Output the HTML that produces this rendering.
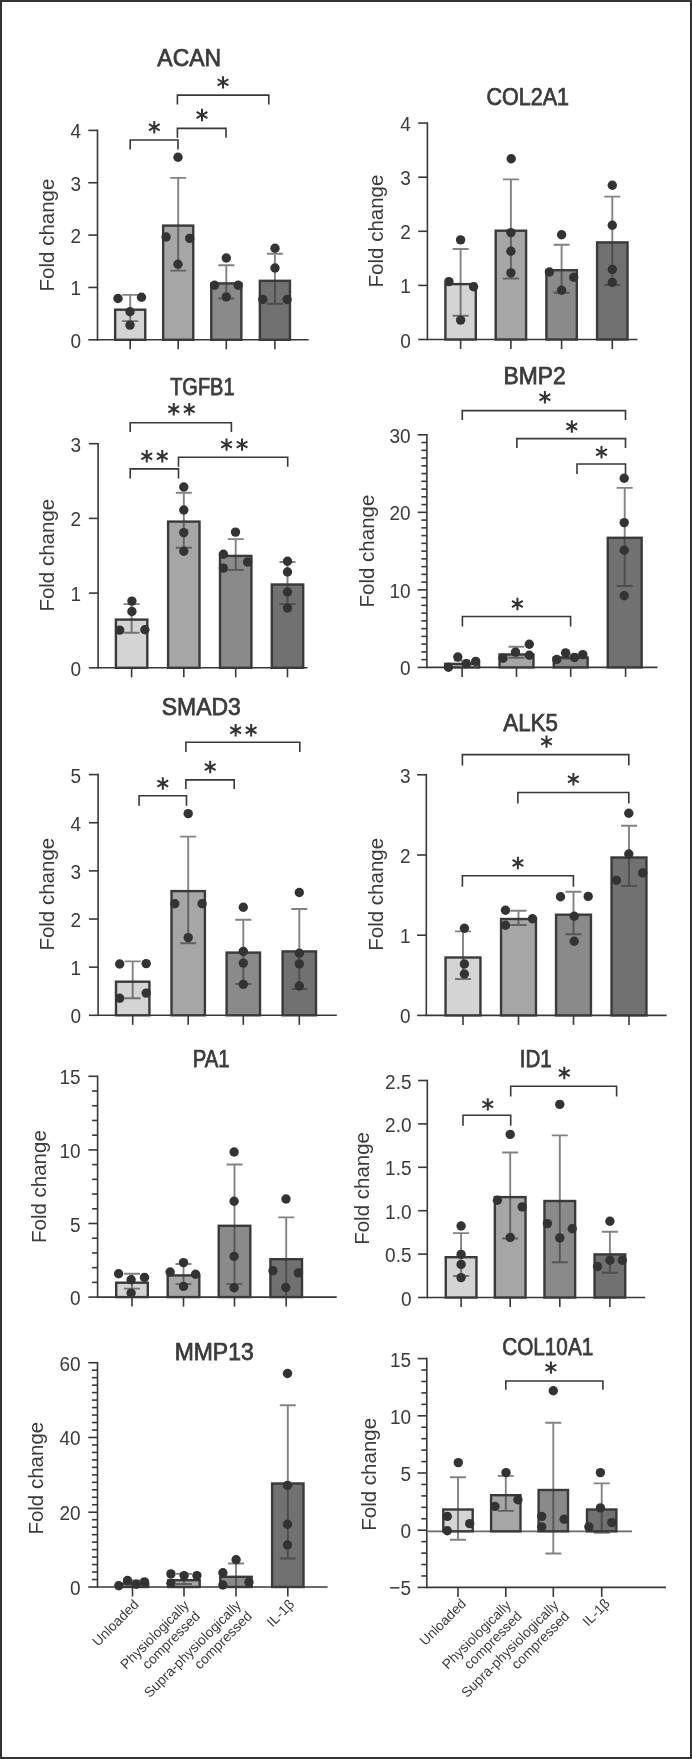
<!DOCTYPE html>
<html><head><meta charset="utf-8"><title>Fold change charts</title>
<style>
html,body{margin:0;padding:0;background:#fff;}
body{width:692px;height:1759px;overflow:hidden;}
.frame{position:absolute;left:0;top:0;width:688px;height:1755px;border:2px solid #333;background:#fff;}
svg{position:absolute;left:0;top:0;will-change:transform;}
</style></head><body>
<div class="frame"></div>
<svg width="692" height="1759" viewBox="0 0 692 1759" font-family='"Liberation Sans", sans-serif'>
<text x="189.2" y="65.9" text-anchor="middle" font-size="23.2" fill="#3b3b3b" stroke="#3b3b3b" stroke-width="0.75" textLength="63.7" lengthAdjust="spacingAndGlyphs">ACAN</text>
<text transform="translate(54.2,235) rotate(-90)" text-anchor="middle" font-size="20.5" fill="#3b3b3b">Fold change</text>
<line x1="88.3" y1="339.8" x2="97.5" y2="339.8" stroke="#383838" stroke-width="1.6" />
<text transform="translate(81,347.8) scale(0.9,1)" text-anchor="end" font-size="21.1" fill="#3b3b3b">0</text>
<line x1="88.3" y1="287.45" x2="97.5" y2="287.45" stroke="#383838" stroke-width="1.6" />
<text transform="translate(81,295.45) scale(0.9,1)" text-anchor="end" font-size="21.1" fill="#3b3b3b">1</text>
<line x1="88.3" y1="235.1" x2="97.5" y2="235.1" stroke="#383838" stroke-width="1.6" />
<text transform="translate(81,243.1) scale(0.9,1)" text-anchor="end" font-size="21.1" fill="#3b3b3b">2</text>
<line x1="88.3" y1="182.75" x2="97.5" y2="182.75" stroke="#383838" stroke-width="1.6" />
<text transform="translate(81,190.75) scale(0.9,1)" text-anchor="end" font-size="21.1" fill="#3b3b3b">3</text>
<line x1="88.3" y1="130.4" x2="97.5" y2="130.4" stroke="#383838" stroke-width="1.6" />
<text transform="translate(81,138.4) scale(0.9,1)" text-anchor="end" font-size="21.1" fill="#3b3b3b">4</text>
<line x1="97.5" y1="129.6" x2="97.5" y2="340.6" stroke="#383838" stroke-width="1.6" />
<line x1="97.5" y1="339.8" x2="308.7" y2="339.8" stroke="#383838" stroke-width="1.6" />
<line x1="130.2" y1="339.8" x2="130.2" y2="349.3" stroke="#383838" stroke-width="1.6" />
<line x1="178.2" y1="339.8" x2="178.2" y2="349.3" stroke="#383838" stroke-width="1.6" />
<line x1="226.3" y1="339.8" x2="226.3" y2="349.3" stroke="#383838" stroke-width="1.6" />
<line x1="274.9" y1="339.8" x2="274.9" y2="349.3" stroke="#383838" stroke-width="1.6" />
<rect x="115.15" y="309.7" width="30.1" height="30.1" fill="#d4d4d4" stroke="#3a3a3a" stroke-width="2.4"/>
<rect x="163.15" y="225.6" width="30.1" height="114.2" fill="#a6a6a6" stroke="#3a3a3a" stroke-width="2.4"/>
<rect x="211.25" y="283.4" width="30.1" height="56.4" fill="#8a8a8a" stroke="#3a3a3a" stroke-width="2.4"/>
<rect x="259.85" y="280.8" width="30.1" height="59" fill="#717171" stroke="#3a3a3a" stroke-width="2.4"/>
<path d="M130.2 294.9V321.1M122.2 294.9H138.2M122.2 321.1H138.2" stroke="rgba(55,55,55,0.62)" stroke-width="1.9" fill="none"/>
<path d="M178.2 177.9V270.6M170.2 177.9H186.2M170.2 270.6H186.2" stroke="rgba(55,55,55,0.62)" stroke-width="1.9" fill="none"/>
<path d="M226.3 265.3V298.5M218.3 265.3H234.3M218.3 298.5H234.3" stroke="rgba(55,55,55,0.62)" stroke-width="1.9" fill="none"/>
<path d="M274.9 253.7V303.8M266.9 253.7H282.9M266.9 303.8H282.9" stroke="rgba(55,55,55,0.62)" stroke-width="1.9" fill="none"/>
<circle cx="118" cy="298.5" r="4.7" fill="#333333"/>
<circle cx="141.5" cy="297.2" r="4.7" fill="#333333"/>
<circle cx="130" cy="311.8" r="4.7" fill="#333333"/>
<circle cx="130" cy="325.1" r="4.7" fill="#333333"/>
<circle cx="178" cy="157.3" r="4.7" fill="#333333"/>
<circle cx="166.1" cy="237" r="4.7" fill="#333333"/>
<circle cx="189.7" cy="238.4" r="4.7" fill="#333333"/>
<circle cx="178" cy="264.3" r="4.7" fill="#333333"/>
<circle cx="226.3" cy="258" r="4.7" fill="#333333"/>
<circle cx="214.6" cy="285.2" r="4.7" fill="#333333"/>
<circle cx="238.2" cy="285.2" r="4.7" fill="#333333"/>
<circle cx="226.3" cy="296.9" r="4.7" fill="#333333"/>
<circle cx="275" cy="248.3" r="4.7" fill="#333333"/>
<circle cx="275" cy="268" r="4.7" fill="#333333"/>
<circle cx="262.8" cy="299.5" r="4.7" fill="#333333"/>
<circle cx="287.1" cy="299.5" r="4.7" fill="#333333"/>
<path d="M177.4 103.8V95.1H268.8V103.8" stroke="#383838" stroke-width="1.6" stroke-linecap="square" fill="none"/>
<path d="M223 76.15L223 88.55M217.63 79.25L228.37 85.45M228.37 79.25L217.63 85.45" stroke="#333" stroke-width="2.0" fill="none"/>
<path d="M177.4 137V128.4H226V137" stroke="#383838" stroke-width="1.6" stroke-linecap="square" fill="none"/>
<path d="M202 108.8L202 121.2M196.63 111.9L207.37 118.1M207.37 111.9L196.63 118.1" stroke="#333" stroke-width="2.0" fill="none"/>
<path d="M130.2 148.7V140H178V148.7" stroke="#383838" stroke-width="1.6" stroke-linecap="square" fill="none"/>
<path d="M154.3 121.1L154.3 133.5M148.93 124.2L159.67 130.4M159.67 124.2L148.93 130.4" stroke="#333" stroke-width="2.0" fill="none"/>
<text x="527.7" y="104.8" text-anchor="middle" font-size="23.2" fill="#3b3b3b" stroke="#3b3b3b" stroke-width="0.75" textLength="82.5" lengthAdjust="spacingAndGlyphs">COL2A1</text>
<text transform="translate(382.8,231) rotate(-90)" text-anchor="middle" font-size="20.5" fill="#3b3b3b">Fold change</text>
<line x1="418.2" y1="339.5" x2="427.4" y2="339.5" stroke="#383838" stroke-width="1.6" />
<text transform="translate(410.8,347.5) scale(0.9,1)" text-anchor="end" font-size="21.1" fill="#3b3b3b">0</text>
<line x1="418.2" y1="285.4" x2="427.4" y2="285.4" stroke="#383838" stroke-width="1.6" />
<text transform="translate(410.8,293.4) scale(0.9,1)" text-anchor="end" font-size="21.1" fill="#3b3b3b">1</text>
<line x1="418.2" y1="231.3" x2="427.4" y2="231.3" stroke="#383838" stroke-width="1.6" />
<text transform="translate(410.8,239.3) scale(0.9,1)" text-anchor="end" font-size="21.1" fill="#3b3b3b">2</text>
<line x1="418.2" y1="177.2" x2="427.4" y2="177.2" stroke="#383838" stroke-width="1.6" />
<text transform="translate(410.8,185.2) scale(0.9,1)" text-anchor="end" font-size="21.1" fill="#3b3b3b">3</text>
<line x1="418.2" y1="123.1" x2="427.4" y2="123.1" stroke="#383838" stroke-width="1.6" />
<text transform="translate(410.8,131.1) scale(0.9,1)" text-anchor="end" font-size="21.1" fill="#3b3b3b">4</text>
<line x1="427.4" y1="122.3" x2="427.4" y2="340.3" stroke="#383838" stroke-width="1.6" />
<line x1="427.4" y1="339.5" x2="637.5" y2="339.5" stroke="#383838" stroke-width="1.6" />
<line x1="460.6" y1="339.5" x2="460.6" y2="349" stroke="#383838" stroke-width="1.6" />
<line x1="510.9" y1="339.5" x2="510.9" y2="349" stroke="#383838" stroke-width="1.6" />
<line x1="561.6" y1="339.5" x2="561.6" y2="349" stroke="#383838" stroke-width="1.6" />
<line x1="612.3" y1="339.5" x2="612.3" y2="349" stroke="#383838" stroke-width="1.6" />
<rect x="445.4" y="284.1" width="30.4" height="55.4" fill="#d4d4d4" stroke="#3a3a3a" stroke-width="2.4"/>
<rect x="495.7" y="230.7" width="30.4" height="108.8" fill="#a6a6a6" stroke="#3a3a3a" stroke-width="2.4"/>
<rect x="546.4" y="270.2" width="30.4" height="69.3" fill="#8a8a8a" stroke="#3a3a3a" stroke-width="2.4"/>
<rect x="597.1" y="242.4" width="30.4" height="97.1" fill="#717171" stroke="#3a3a3a" stroke-width="2.4"/>
<path d="M460.6 249V315.8M452.6 249H468.6M452.6 315.8H468.6" stroke="rgba(55,55,55,0.62)" stroke-width="1.9" fill="none"/>
<path d="M510.9 179.4V278.5M502.9 179.4H518.9M502.9 278.5H518.9" stroke="rgba(55,55,55,0.62)" stroke-width="1.9" fill="none"/>
<path d="M561.6 244.7V292.8M553.6 244.7H569.6M553.6 292.8H569.6" stroke="rgba(55,55,55,0.62)" stroke-width="1.9" fill="none"/>
<path d="M612.3 196.6V285M604.3 196.6H620.3M604.3 285H620.3" stroke="rgba(55,55,55,0.62)" stroke-width="1.9" fill="none"/>
<circle cx="460.6" cy="239.9" r="4.7" fill="#333333"/>
<circle cx="448.9" cy="281.6" r="4.7" fill="#333333"/>
<circle cx="473.6" cy="286.8" r="4.7" fill="#333333"/>
<circle cx="460.6" cy="320.1" r="4.7" fill="#333333"/>
<circle cx="511.2" cy="158.7" r="4.7" fill="#333333"/>
<circle cx="510.9" cy="232.6" r="4.7" fill="#333333"/>
<circle cx="510.9" cy="251.2" r="4.7" fill="#333333"/>
<circle cx="510.9" cy="272.9" r="4.7" fill="#333333"/>
<circle cx="561.6" cy="234.7" r="4.7" fill="#333333"/>
<circle cx="549.4" cy="272" r="4.7" fill="#333333"/>
<circle cx="573.7" cy="277.2" r="4.7" fill="#333333"/>
<circle cx="561.6" cy="290.2" r="4.7" fill="#333333"/>
<circle cx="612.3" cy="185.3" r="4.7" fill="#333333"/>
<circle cx="612.3" cy="225.2" r="4.7" fill="#333333"/>
<circle cx="612.3" cy="269.4" r="4.7" fill="#333333"/>
<circle cx="612.3" cy="282.4" r="4.7" fill="#333333"/>
<text x="202.35" y="395.1" text-anchor="middle" font-size="23.2" fill="#3b3b3b" stroke="#3b3b3b" stroke-width="0.75" textLength="64.4" lengthAdjust="spacingAndGlyphs">TGFB1</text>
<text transform="translate(53.9,555.2) rotate(-90)" text-anchor="middle" font-size="20.5" fill="#3b3b3b">Fold change</text>
<line x1="88.9" y1="667.8" x2="98.1" y2="667.8" stroke="#383838" stroke-width="1.6" />
<text transform="translate(81,675.8) scale(0.9,1)" text-anchor="end" font-size="21.1" fill="#3b3b3b">0</text>
<line x1="88.9" y1="593.1" x2="98.1" y2="593.1" stroke="#383838" stroke-width="1.6" />
<text transform="translate(81,601.1) scale(0.9,1)" text-anchor="end" font-size="21.1" fill="#3b3b3b">1</text>
<line x1="88.9" y1="518.4" x2="98.1" y2="518.4" stroke="#383838" stroke-width="1.6" />
<text transform="translate(81,526.4) scale(0.9,1)" text-anchor="end" font-size="21.1" fill="#3b3b3b">2</text>
<line x1="88.9" y1="443.7" x2="98.1" y2="443.7" stroke="#383838" stroke-width="1.6" />
<text transform="translate(81,451.7) scale(0.9,1)" text-anchor="end" font-size="21.1" fill="#3b3b3b">3</text>
<line x1="98.1" y1="442.9" x2="98.1" y2="668.6" stroke="#383838" stroke-width="1.6" />
<line x1="98.1" y1="667.8" x2="307.5" y2="667.8" stroke="#383838" stroke-width="1.6" />
<line x1="131.6" y1="667.8" x2="131.6" y2="677.3" stroke="#383838" stroke-width="1.6" />
<line x1="183.8" y1="667.8" x2="183.8" y2="677.3" stroke="#383838" stroke-width="1.6" />
<line x1="235.7" y1="667.8" x2="235.7" y2="677.3" stroke="#383838" stroke-width="1.6" />
<line x1="287.5" y1="667.8" x2="287.5" y2="677.3" stroke="#383838" stroke-width="1.6" />
<rect x="115.9" y="619.6" width="31.4" height="48.2" fill="#d4d4d4" stroke="#3a3a3a" stroke-width="2.4"/>
<rect x="168.1" y="521.6" width="31.4" height="146.2" fill="#a6a6a6" stroke="#3a3a3a" stroke-width="2.4"/>
<rect x="220" y="555.9" width="31.4" height="111.9" fill="#8a8a8a" stroke="#3a3a3a" stroke-width="2.4"/>
<rect x="271.8" y="584.5" width="31.4" height="83.3" fill="#717171" stroke="#3a3a3a" stroke-width="2.4"/>
<path d="M131.6 604.1V632.7M123.6 604.1H139.6M123.6 632.7H139.6" stroke="rgba(55,55,55,0.62)" stroke-width="1.9" fill="none"/>
<path d="M183.8 492.7V547.7M175.8 492.7H191.8M175.8 547.7H191.8" stroke="rgba(55,55,55,0.62)" stroke-width="1.9" fill="none"/>
<path d="M235.7 539.1V569.9M227.7 539.1H243.7M227.7 569.9H243.7" stroke="rgba(55,55,55,0.62)" stroke-width="1.9" fill="none"/>
<path d="M287.5 562V604.1M279.5 562H295.5M279.5 604.1H295.5" stroke="rgba(55,55,55,0.62)" stroke-width="1.9" fill="none"/>
<circle cx="131.9" cy="601.1" r="4.7" fill="#333333"/>
<circle cx="131.9" cy="611.5" r="4.7" fill="#333333"/>
<circle cx="119.7" cy="630.1" r="4.7" fill="#333333"/>
<circle cx="144.9" cy="629.7" r="4.7" fill="#333333"/>
<circle cx="183.8" cy="487" r="4.7" fill="#333333"/>
<circle cx="183.8" cy="510" r="4.7" fill="#333333"/>
<circle cx="183.8" cy="532.6" r="4.7" fill="#333333"/>
<circle cx="183.8" cy="551.2" r="4.7" fill="#333333"/>
<circle cx="235.5" cy="532.1" r="4.7" fill="#333333"/>
<circle cx="223.4" cy="554.2" r="4.7" fill="#333333"/>
<circle cx="223.4" cy="568.1" r="4.7" fill="#333333"/>
<circle cx="247.6" cy="562" r="4.7" fill="#333333"/>
<circle cx="287.5" cy="561.2" r="4.7" fill="#333333"/>
<circle cx="287.5" cy="572" r="4.7" fill="#333333"/>
<circle cx="287.5" cy="592" r="4.7" fill="#333333"/>
<circle cx="287.5" cy="608" r="4.7" fill="#333333"/>
<path d="M130.2 431.3V422.7H231.4V431.3" stroke="#383838" stroke-width="1.6" stroke-linecap="square" fill="none"/>
<path d="M173.75 403.05L173.75 415.45M168.38 406.15L179.12 412.35M179.12 406.15L168.38 412.35" stroke="#333" stroke-width="2.0" fill="none"/>
<path d="M189.25 403.05L189.25 415.45M183.88 406.15L194.62 412.35M194.62 406.15L183.88 412.35" stroke="#333" stroke-width="2.0" fill="none"/>
<path d="M178.5 466V457.3H287.7V466" stroke="#383838" stroke-width="1.6" stroke-linecap="square" fill="none"/>
<path d="M226.55 438.4L226.55 450.8M221.18 441.5L231.92 447.7M231.92 441.5L221.18 447.7" stroke="#333" stroke-width="2.0" fill="none"/>
<path d="M242.05 438.4L242.05 450.8M236.68 441.5L247.42 447.7M247.42 441.5L236.68 447.7" stroke="#333" stroke-width="2.0" fill="none"/>
<path d="M130.2 477.6V468.9H178.5V477.6" stroke="#383838" stroke-width="1.6" stroke-linecap="square" fill="none"/>
<path d="M146.75 450L146.75 462.4M141.38 453.1L152.12 459.3M152.12 453.1L141.38 459.3" stroke="#333" stroke-width="2.0" fill="none"/>
<path d="M162.25 450L162.25 462.4M156.88 453.1L167.62 459.3M167.62 453.1L156.88 459.3" stroke="#333" stroke-width="2.0" fill="none"/>
<text x="534.55" y="383.7" text-anchor="middle" font-size="23.2" fill="#3b3b3b" stroke="#3b3b3b" stroke-width="0.75" textLength="62.2" lengthAdjust="spacingAndGlyphs">BMP2</text>
<text transform="translate(373.9,551.05) rotate(-90)" text-anchor="middle" font-size="20.5" fill="#3b3b3b">Fold change</text>
<line x1="417.7" y1="667.4" x2="426.9" y2="667.4" stroke="#383838" stroke-width="1.6" />
<text transform="translate(410.5,675.4) scale(0.9,1)" text-anchor="end" font-size="21.1" fill="#3b3b3b">0</text>
<line x1="417.7" y1="589.87" x2="426.9" y2="589.87" stroke="#383838" stroke-width="1.6" />
<text transform="translate(410.5,597.87) scale(0.9,1)" text-anchor="end" font-size="21.1" fill="#3b3b3b">10</text>
<line x1="417.7" y1="512.34" x2="426.9" y2="512.34" stroke="#383838" stroke-width="1.6" />
<text transform="translate(410.5,520.34) scale(0.9,1)" text-anchor="end" font-size="21.1" fill="#3b3b3b">20</text>
<line x1="417.7" y1="434.81" x2="426.9" y2="434.81" stroke="#383838" stroke-width="1.6" />
<text transform="translate(410.5,442.81) scale(0.9,1)" text-anchor="end" font-size="21.1" fill="#3b3b3b">30</text>
<line x1="421.4" y1="659.65" x2="426.9" y2="659.65" stroke="#383838" stroke-width="1.6" />
<line x1="421.4" y1="651.89" x2="426.9" y2="651.89" stroke="#383838" stroke-width="1.6" />
<line x1="421.4" y1="644.14" x2="426.9" y2="644.14" stroke="#383838" stroke-width="1.6" />
<line x1="421.4" y1="636.39" x2="426.9" y2="636.39" stroke="#383838" stroke-width="1.6" />
<line x1="421.4" y1="628.63" x2="426.9" y2="628.63" stroke="#383838" stroke-width="1.6" />
<line x1="421.4" y1="620.88" x2="426.9" y2="620.88" stroke="#383838" stroke-width="1.6" />
<line x1="421.4" y1="613.13" x2="426.9" y2="613.13" stroke="#383838" stroke-width="1.6" />
<line x1="421.4" y1="605.38" x2="426.9" y2="605.38" stroke="#383838" stroke-width="1.6" />
<line x1="421.4" y1="597.62" x2="426.9" y2="597.62" stroke="#383838" stroke-width="1.6" />
<line x1="421.4" y1="582.12" x2="426.9" y2="582.12" stroke="#383838" stroke-width="1.6" />
<line x1="421.4" y1="574.36" x2="426.9" y2="574.36" stroke="#383838" stroke-width="1.6" />
<line x1="421.4" y1="566.61" x2="426.9" y2="566.61" stroke="#383838" stroke-width="1.6" />
<line x1="421.4" y1="558.86" x2="426.9" y2="558.86" stroke="#383838" stroke-width="1.6" />
<line x1="421.4" y1="551.11" x2="426.9" y2="551.11" stroke="#383838" stroke-width="1.6" />
<line x1="421.4" y1="543.35" x2="426.9" y2="543.35" stroke="#383838" stroke-width="1.6" />
<line x1="421.4" y1="535.6" x2="426.9" y2="535.6" stroke="#383838" stroke-width="1.6" />
<line x1="421.4" y1="527.85" x2="426.9" y2="527.85" stroke="#383838" stroke-width="1.6" />
<line x1="421.4" y1="520.09" x2="426.9" y2="520.09" stroke="#383838" stroke-width="1.6" />
<line x1="421.4" y1="504.59" x2="426.9" y2="504.59" stroke="#383838" stroke-width="1.6" />
<line x1="421.4" y1="496.83" x2="426.9" y2="496.83" stroke="#383838" stroke-width="1.6" />
<line x1="421.4" y1="489.08" x2="426.9" y2="489.08" stroke="#383838" stroke-width="1.6" />
<line x1="421.4" y1="481.33" x2="426.9" y2="481.33" stroke="#383838" stroke-width="1.6" />
<line x1="421.4" y1="473.57" x2="426.9" y2="473.57" stroke="#383838" stroke-width="1.6" />
<line x1="421.4" y1="465.82" x2="426.9" y2="465.82" stroke="#383838" stroke-width="1.6" />
<line x1="421.4" y1="458.07" x2="426.9" y2="458.07" stroke="#383838" stroke-width="1.6" />
<line x1="421.4" y1="450.32" x2="426.9" y2="450.32" stroke="#383838" stroke-width="1.6" />
<line x1="421.4" y1="442.56" x2="426.9" y2="442.56" stroke="#383838" stroke-width="1.6" />
<line x1="426.9" y1="434.01" x2="426.9" y2="668.2" stroke="#383838" stroke-width="1.6" />
<line x1="426.9" y1="667.4" x2="657.5" y2="667.4" stroke="#383838" stroke-width="1.6" />
<line x1="462.1" y1="667.4" x2="462.1" y2="676.9" stroke="#383838" stroke-width="1.6" />
<line x1="516.5" y1="667.4" x2="516.5" y2="676.9" stroke="#383838" stroke-width="1.6" />
<line x1="570.7" y1="667.4" x2="570.7" y2="676.9" stroke="#383838" stroke-width="1.6" />
<line x1="625.6" y1="667.4" x2="625.6" y2="676.9" stroke="#383838" stroke-width="1.6" />
<rect x="445.15" y="663.9" width="33.9" height="3.5" fill="#d4d4d4" stroke="#3a3a3a" stroke-width="2.4"/>
<rect x="499.55" y="654.5" width="33.9" height="12.9" fill="#a6a6a6" stroke="#3a3a3a" stroke-width="2.4"/>
<rect x="553.75" y="657.5" width="33.9" height="9.9" fill="#8a8a8a" stroke="#3a3a3a" stroke-width="2.4"/>
<rect x="607.75" y="537.8" width="33.9" height="129.6" fill="#717171" stroke="#3a3a3a" stroke-width="2.4"/>
<path d="M462.1 660.5V664.5M454.1 660.5H470.1M454.1 664.5H470.1" stroke="rgba(55,55,55,0.62)" stroke-width="1.9" fill="none"/>
<path d="M516.5 646.7V657.8M508.5 646.7H524.5M508.5 657.8H524.5" stroke="rgba(55,55,55,0.62)" stroke-width="1.9" fill="none"/>
<path d="M570.7 654.5V658.5M562.7 654.5H578.7M562.7 658.5H578.7" stroke="rgba(55,55,55,0.62)" stroke-width="1.9" fill="none"/>
<path d="M624.7 487.9V586M616.7 487.9H632.7M616.7 586H632.7" stroke="rgba(55,55,55,0.62)" stroke-width="1.9" fill="none"/>
<circle cx="448.4" cy="667.3" r="4.7" fill="#333333"/>
<circle cx="457.8" cy="657" r="4.7" fill="#333333"/>
<circle cx="466.4" cy="663.7" r="4.7" fill="#333333"/>
<circle cx="475.7" cy="661.4" r="4.7" fill="#333333"/>
<circle cx="503" cy="658.3" r="4.7" fill="#333333"/>
<circle cx="515.5" cy="652.1" r="4.7" fill="#333333"/>
<circle cx="529.3" cy="644.3" r="4.7" fill="#333333"/>
<circle cx="529.3" cy="655.3" r="4.7" fill="#333333"/>
<circle cx="556.8" cy="659.5" r="4.7" fill="#333333"/>
<circle cx="565.6" cy="652.9" r="4.7" fill="#333333"/>
<circle cx="574.5" cy="657.5" r="4.7" fill="#333333"/>
<circle cx="582.8" cy="654.6" r="4.7" fill="#333333"/>
<circle cx="624.2" cy="478.2" r="4.7" fill="#333333"/>
<circle cx="624.2" cy="522.6" r="4.7" fill="#333333"/>
<circle cx="624.2" cy="550.3" r="4.7" fill="#333333"/>
<circle cx="624.2" cy="595.7" r="4.7" fill="#333333"/>
<path d="M462.3 419.2V410.6H625.5V419.2" stroke="#383838" stroke-width="1.6" stroke-linecap="square" fill="none"/>
<path d="M544.9 391.1L544.9 403.5M539.53 394.2L550.27 400.4M550.27 394.2L539.53 400.4" stroke="#333" stroke-width="2.0" fill="none"/>
<path d="M516.9 447.3V438.6H625.5V447.3" stroke="#383838" stroke-width="1.6" stroke-linecap="square" fill="none"/>
<path d="M571.8 420.3L571.8 432.7M566.43 423.4L577.17 429.6M577.17 423.4L566.43 429.6" stroke="#333" stroke-width="2.0" fill="none"/>
<path d="M577 473.3V464H625.5V473.3" stroke="#383838" stroke-width="1.6" stroke-linecap="square" fill="none"/>
<path d="M601.5 446L601.5 458.4M596.13 449.1L606.87 455.3M606.87 449.1L596.13 455.3" stroke="#333" stroke-width="2.0" fill="none"/>
<path d="M462.4 625.7V616.5H570.6V625.7" stroke="#383838" stroke-width="1.6" stroke-linecap="square" fill="none"/>
<path d="M517.4 597.8L517.4 610.2M512.03 600.9L522.77 607.1M522.77 600.9L512.03 607.1" stroke="#333" stroke-width="2.0" fill="none"/>
<text x="201.25" y="714.6" text-anchor="middle" font-size="23.2" fill="#3b3b3b" stroke="#3b3b3b" stroke-width="0.75" textLength="79" lengthAdjust="spacingAndGlyphs">SMAD3</text>
<text transform="translate(53.9,894.2) rotate(-90)" text-anchor="middle" font-size="20.5" fill="#3b3b3b">Fold change</text>
<line x1="88.9" y1="1015.3" x2="98.1" y2="1015.3" stroke="#383838" stroke-width="1.6" />
<text transform="translate(81,1023.3) scale(0.9,1)" text-anchor="end" font-size="21.1" fill="#3b3b3b">0</text>
<line x1="88.9" y1="967.16" x2="98.1" y2="967.16" stroke="#383838" stroke-width="1.6" />
<text transform="translate(81,975.16) scale(0.9,1)" text-anchor="end" font-size="21.1" fill="#3b3b3b">1</text>
<line x1="88.9" y1="919.02" x2="98.1" y2="919.02" stroke="#383838" stroke-width="1.6" />
<text transform="translate(81,927.02) scale(0.9,1)" text-anchor="end" font-size="21.1" fill="#3b3b3b">2</text>
<line x1="88.9" y1="870.88" x2="98.1" y2="870.88" stroke="#383838" stroke-width="1.6" />
<text transform="translate(81,878.88) scale(0.9,1)" text-anchor="end" font-size="21.1" fill="#3b3b3b">3</text>
<line x1="88.9" y1="822.74" x2="98.1" y2="822.74" stroke="#383838" stroke-width="1.6" />
<text transform="translate(81,830.74) scale(0.9,1)" text-anchor="end" font-size="21.1" fill="#3b3b3b">4</text>
<line x1="88.9" y1="774.6" x2="98.1" y2="774.6" stroke="#383838" stroke-width="1.6" />
<text transform="translate(81,782.6) scale(0.9,1)" text-anchor="end" font-size="21.1" fill="#3b3b3b">5</text>
<line x1="98.1" y1="773.8" x2="98.1" y2="1016.1" stroke="#383838" stroke-width="1.6" />
<line x1="98.1" y1="1015.3" x2="336.8" y2="1015.3" stroke="#383838" stroke-width="1.6" />
<line x1="132.7" y1="1015.3" x2="132.7" y2="1024.8" stroke="#383838" stroke-width="1.6" />
<line x1="188.2" y1="1015.3" x2="188.2" y2="1024.8" stroke="#383838" stroke-width="1.6" />
<line x1="243.3" y1="1015.3" x2="243.3" y2="1024.8" stroke="#383838" stroke-width="1.6" />
<line x1="299.3" y1="1015.3" x2="299.3" y2="1024.8" stroke="#383838" stroke-width="1.6" />
<rect x="116" y="981.7" width="33.4" height="33.6" fill="#d4d4d4" stroke="#3a3a3a" stroke-width="2.4"/>
<rect x="171.5" y="891.1" width="33.4" height="124.2" fill="#a6a6a6" stroke="#3a3a3a" stroke-width="2.4"/>
<rect x="226.6" y="952.6" width="33.4" height="62.7" fill="#8a8a8a" stroke="#3a3a3a" stroke-width="2.4"/>
<rect x="282.6" y="951.4" width="33.4" height="63.9" fill="#717171" stroke="#3a3a3a" stroke-width="2.4"/>
<path d="M132.7 961.4V998.3M124.7 961.4H140.7M124.7 998.3H140.7" stroke="rgba(55,55,55,0.62)" stroke-width="1.9" fill="none"/>
<path d="M188.2 836.6V943.2M180.2 836.6H196.2M180.2 943.2H196.2" stroke="rgba(55,55,55,0.62)" stroke-width="1.9" fill="none"/>
<path d="M243.3 919.8V984M235.3 919.8H251.3M235.3 984H251.3" stroke="rgba(55,55,55,0.62)" stroke-width="1.9" fill="none"/>
<path d="M299.3 909V989.1M291.3 909H307.3M291.3 989.1H307.3" stroke="rgba(55,55,55,0.62)" stroke-width="1.9" fill="none"/>
<circle cx="119.7" cy="964" r="4.7" fill="#333333"/>
<circle cx="146.2" cy="963.6" r="4.7" fill="#333333"/>
<circle cx="119.7" cy="998.3" r="4.7" fill="#333333"/>
<circle cx="146.2" cy="993.1" r="4.7" fill="#333333"/>
<circle cx="188.2" cy="813.6" r="4.7" fill="#333333"/>
<circle cx="174.8" cy="903.8" r="4.7" fill="#333333"/>
<circle cx="202.1" cy="903.8" r="4.7" fill="#333333"/>
<circle cx="188.2" cy="937.6" r="4.7" fill="#333333"/>
<circle cx="243.3" cy="907.2" r="4.7" fill="#333333"/>
<circle cx="243.3" cy="951.4" r="4.7" fill="#333333"/>
<circle cx="243.3" cy="963.1" r="4.7" fill="#333333"/>
<circle cx="243.3" cy="984.4" r="4.7" fill="#333333"/>
<circle cx="299.3" cy="892.5" r="4.7" fill="#333333"/>
<circle cx="299.3" cy="953.3" r="4.7" fill="#333333"/>
<circle cx="299.3" cy="963.9" r="4.7" fill="#333333"/>
<circle cx="299.3" cy="986" r="4.7" fill="#333333"/>
<path d="M185.9 751.3V742.3H299.8V751.3" stroke="#383838" stroke-width="1.6" stroke-linecap="square" fill="none"/>
<path d="M235.65 724L235.65 736.4M230.28 727.1L241.02 733.3M241.02 727.1L230.28 733.3" stroke="#333" stroke-width="2.0" fill="none"/>
<path d="M251.15 724L251.15 736.4M245.78 727.1L256.52 733.3M256.52 727.1L245.78 733.3" stroke="#333" stroke-width="2.0" fill="none"/>
<path d="M185.9 788.3V779.9H234.2V788.3" stroke="#383838" stroke-width="1.6" stroke-linecap="square" fill="none"/>
<path d="M210.2 760.85L210.2 773.25M204.83 763.95L215.57 770.15M215.57 763.95L204.83 770.15" stroke="#333" stroke-width="2.0" fill="none"/>
<path d="M139.1 805V795.8H186.5V805" stroke="#383838" stroke-width="1.6" stroke-linecap="square" fill="none"/>
<path d="M162.8 777.3L162.8 789.7M157.43 780.4L168.17 786.6M168.17 780.4L157.43 786.6" stroke="#333" stroke-width="2.0" fill="none"/>
<text x="530.6" y="731" text-anchor="middle" font-size="23.2" fill="#3b3b3b" stroke="#3b3b3b" stroke-width="0.75" textLength="54.7" lengthAdjust="spacingAndGlyphs">ALK5</text>
<text transform="translate(382.8,894.3) rotate(-90)" text-anchor="middle" font-size="20.5" fill="#3b3b3b">Fold change</text>
<line x1="417.1" y1="1015.4" x2="426.3" y2="1015.4" stroke="#383838" stroke-width="1.6" />
<text transform="translate(410.5,1023.4) scale(0.9,1)" text-anchor="end" font-size="21.1" fill="#3b3b3b">0</text>
<line x1="417.1" y1="935.2" x2="426.3" y2="935.2" stroke="#383838" stroke-width="1.6" />
<text transform="translate(410.5,943.2) scale(0.9,1)" text-anchor="end" font-size="21.1" fill="#3b3b3b">1</text>
<line x1="417.1" y1="855" x2="426.3" y2="855" stroke="#383838" stroke-width="1.6" />
<text transform="translate(410.5,863) scale(0.9,1)" text-anchor="end" font-size="21.1" fill="#3b3b3b">2</text>
<line x1="417.1" y1="774.8" x2="426.3" y2="774.8" stroke="#383838" stroke-width="1.6" />
<text transform="translate(410.5,782.8) scale(0.9,1)" text-anchor="end" font-size="21.1" fill="#3b3b3b">3</text>
<line x1="426.3" y1="774" x2="426.3" y2="1016.2" stroke="#383838" stroke-width="1.6" />
<line x1="426.3" y1="1015.4" x2="666.6" y2="1015.4" stroke="#383838" stroke-width="1.6" />
<line x1="463" y1="1015.4" x2="463" y2="1024.9" stroke="#383838" stroke-width="1.6" />
<line x1="518.5" y1="1015.4" x2="518.5" y2="1024.9" stroke="#383838" stroke-width="1.6" />
<line x1="573.5" y1="1015.4" x2="573.5" y2="1024.9" stroke="#383838" stroke-width="1.6" />
<line x1="629" y1="1015.4" x2="629" y2="1024.9" stroke="#383838" stroke-width="1.6" />
<rect x="445.55" y="957.5" width="34.9" height="57.9" fill="#d4d4d4" stroke="#3a3a3a" stroke-width="2.4"/>
<rect x="501.05" y="919" width="34.9" height="96.4" fill="#a6a6a6" stroke="#3a3a3a" stroke-width="2.4"/>
<rect x="556.05" y="914.7" width="34.9" height="100.7" fill="#8a8a8a" stroke="#3a3a3a" stroke-width="2.4"/>
<rect x="611.55" y="857.5" width="34.9" height="157.9" fill="#717171" stroke="#3a3a3a" stroke-width="2.4"/>
<path d="M463 931.4V979M455 931.4H471M455 979H471" stroke="rgba(55,55,55,0.62)" stroke-width="1.9" fill="none"/>
<path d="M518.5 910.8V925M510.5 910.8H526.5M510.5 925H526.5" stroke="rgba(55,55,55,0.62)" stroke-width="1.9" fill="none"/>
<path d="M573.5 891.8V934.3M565.5 891.8H581.5M565.5 934.3H581.5" stroke="rgba(55,55,55,0.62)" stroke-width="1.9" fill="none"/>
<path d="M629 825.8V885.9M621 825.8H637M621 885.9H637" stroke="rgba(55,55,55,0.62)" stroke-width="1.9" fill="none"/>
<circle cx="464.4" cy="928.2" r="4.7" fill="#333333"/>
<circle cx="464.4" cy="964" r="4.7" fill="#333333"/>
<circle cx="464.4" cy="974" r="4.7" fill="#333333"/>
<circle cx="505.5" cy="910.3" r="4.7" fill="#333333"/>
<circle cx="505.5" cy="925.3" r="4.7" fill="#333333"/>
<circle cx="532.5" cy="918.7" r="4.7" fill="#333333"/>
<circle cx="560.5" cy="896.7" r="4.7" fill="#333333"/>
<circle cx="588.2" cy="896.4" r="4.7" fill="#333333"/>
<circle cx="574.2" cy="916.3" r="4.7" fill="#333333"/>
<circle cx="574.2" cy="941.2" r="4.7" fill="#333333"/>
<circle cx="628.8" cy="813.3" r="4.7" fill="#333333"/>
<circle cx="628.8" cy="854" r="4.7" fill="#333333"/>
<circle cx="616.4" cy="880.3" r="4.7" fill="#333333"/>
<circle cx="642.7" cy="872.9" r="4.7" fill="#333333"/>
<path d="M462.4 764.7V754.6H628.8V764.7" stroke="#383838" stroke-width="1.6" stroke-linecap="square" fill="none"/>
<path d="M546.5 735.4L546.5 747.8M541.13 738.5L551.87 744.7M551.87 738.5L541.13 744.7" stroke="#333" stroke-width="2.0" fill="none"/>
<path d="M517.9 802.7V792.5H628.8V802.7" stroke="#383838" stroke-width="1.6" stroke-linecap="square" fill="none"/>
<path d="M573.4 773.05L573.4 785.45M568.03 776.15L578.77 782.35M578.77 776.15L568.03 782.35" stroke="#333" stroke-width="2.0" fill="none"/>
<path d="M462.4 885.9V875.7H573.4V885.9" stroke="#383838" stroke-width="1.6" stroke-linecap="square" fill="none"/>
<path d="M517.9 856.8L517.9 869.2M512.53 859.9L523.27 866.1M523.27 859.9L512.53 866.1" stroke="#333" stroke-width="2.0" fill="none"/>
<text x="211.1" y="1066.9" text-anchor="middle" font-size="23.2" fill="#3b3b3b" stroke="#3b3b3b" stroke-width="0.75" textLength="36.9" lengthAdjust="spacingAndGlyphs">PA1</text>
<text transform="translate(45.8,1186.6) rotate(-90)" text-anchor="middle" font-size="20.5" fill="#3b3b3b">Fold change</text>
<line x1="88.4" y1="1297.1" x2="97.6" y2="1297.1" stroke="#383838" stroke-width="1.6" />
<text transform="translate(80.6,1305.1) scale(0.9,1)" text-anchor="end" font-size="21.1" fill="#3b3b3b">0</text>
<line x1="88.4" y1="1223.5" x2="97.6" y2="1223.5" stroke="#383838" stroke-width="1.6" />
<text transform="translate(80.6,1231.5) scale(0.9,1)" text-anchor="end" font-size="21.1" fill="#3b3b3b">5</text>
<line x1="88.4" y1="1149.9" x2="97.6" y2="1149.9" stroke="#383838" stroke-width="1.6" />
<text transform="translate(80.6,1157.9) scale(0.9,1)" text-anchor="end" font-size="21.1" fill="#3b3b3b">10</text>
<line x1="88.4" y1="1076.3" x2="97.6" y2="1076.3" stroke="#383838" stroke-width="1.6" />
<text transform="translate(80.6,1084.3) scale(0.9,1)" text-anchor="end" font-size="21.1" fill="#3b3b3b">15</text>
<line x1="92.1" y1="1282.38" x2="97.6" y2="1282.38" stroke="#383838" stroke-width="1.6" />
<line x1="92.1" y1="1267.66" x2="97.6" y2="1267.66" stroke="#383838" stroke-width="1.6" />
<line x1="92.1" y1="1252.94" x2="97.6" y2="1252.94" stroke="#383838" stroke-width="1.6" />
<line x1="92.1" y1="1238.22" x2="97.6" y2="1238.22" stroke="#383838" stroke-width="1.6" />
<line x1="92.1" y1="1208.78" x2="97.6" y2="1208.78" stroke="#383838" stroke-width="1.6" />
<line x1="92.1" y1="1194.06" x2="97.6" y2="1194.06" stroke="#383838" stroke-width="1.6" />
<line x1="92.1" y1="1179.34" x2="97.6" y2="1179.34" stroke="#383838" stroke-width="1.6" />
<line x1="92.1" y1="1164.62" x2="97.6" y2="1164.62" stroke="#383838" stroke-width="1.6" />
<line x1="92.1" y1="1135.18" x2="97.6" y2="1135.18" stroke="#383838" stroke-width="1.6" />
<line x1="92.1" y1="1120.46" x2="97.6" y2="1120.46" stroke="#383838" stroke-width="1.6" />
<line x1="92.1" y1="1105.74" x2="97.6" y2="1105.74" stroke="#383838" stroke-width="1.6" />
<line x1="92.1" y1="1091.02" x2="97.6" y2="1091.02" stroke="#383838" stroke-width="1.6" />
<line x1="97.6" y1="1075.5" x2="97.6" y2="1297.9" stroke="#383838" stroke-width="1.6" />
<line x1="97.6" y1="1297.1" x2="336.7" y2="1297.1" stroke="#383838" stroke-width="1.6" />
<line x1="132" y1="1297.1" x2="132" y2="1306.6" stroke="#383838" stroke-width="1.6" />
<line x1="183.5" y1="1297.1" x2="183.5" y2="1306.6" stroke="#383838" stroke-width="1.6" />
<line x1="234.5" y1="1297.1" x2="234.5" y2="1306.6" stroke="#383838" stroke-width="1.6" />
<line x1="286.2" y1="1297.1" x2="286.2" y2="1306.6" stroke="#383838" stroke-width="1.6" />
<rect x="116.2" y="1282.7" width="31.6" height="14.4" fill="#d4d4d4" stroke="#3a3a3a" stroke-width="2.4"/>
<rect x="167.7" y="1275.4" width="31.6" height="21.7" fill="#a6a6a6" stroke="#3a3a3a" stroke-width="2.4"/>
<rect x="218.7" y="1225.8" width="31.6" height="71.3" fill="#8a8a8a" stroke="#3a3a3a" stroke-width="2.4"/>
<rect x="270.4" y="1259.2" width="31.6" height="37.9" fill="#717171" stroke="#3a3a3a" stroke-width="2.4"/>
<path d="M132 1273.8V1288.6M124 1273.8H140M124 1288.6H140" stroke="rgba(55,55,55,0.62)" stroke-width="1.9" fill="none"/>
<path d="M183.5 1264V1284.1M175.5 1264H191.5M175.5 1284.1H191.5" stroke="rgba(55,55,55,0.62)" stroke-width="1.9" fill="none"/>
<path d="M234.5 1164.5V1284.1M226.5 1164.5H242.5M226.5 1284.1H242.5" stroke="rgba(55,55,55,0.62)" stroke-width="1.9" fill="none"/>
<path d="M286.2 1217.4V1297M278.2 1217.4H294.2M278.2 1297H294.2" stroke="rgba(55,55,55,0.62)" stroke-width="1.9" fill="none"/>
<circle cx="118.6" cy="1273.8" r="4.7" fill="#333333"/>
<circle cx="131.1" cy="1279.7" r="4.7" fill="#333333"/>
<circle cx="144.5" cy="1277.4" r="4.7" fill="#333333"/>
<circle cx="131.1" cy="1293.1" r="4.7" fill="#333333"/>
<circle cx="183.5" cy="1262.6" r="4.7" fill="#333333"/>
<circle cx="170.1" cy="1272" r="4.7" fill="#333333"/>
<circle cx="195.6" cy="1274.3" r="4.7" fill="#333333"/>
<circle cx="183.5" cy="1286.4" r="4.7" fill="#333333"/>
<circle cx="234.1" cy="1152" r="4.7" fill="#333333"/>
<circle cx="234.1" cy="1201.3" r="4.7" fill="#333333"/>
<circle cx="234.1" cy="1256.4" r="4.7" fill="#333333"/>
<circle cx="234.1" cy="1287.7" r="4.7" fill="#333333"/>
<circle cx="286" cy="1199" r="4.7" fill="#333333"/>
<circle cx="273" cy="1270.8" r="4.7" fill="#333333"/>
<circle cx="298.4" cy="1272.9" r="4.7" fill="#333333"/>
<circle cx="285.8" cy="1287.5" r="4.7" fill="#333333"/>
<text x="535.75" y="1066.7" text-anchor="middle" font-size="23.2" fill="#3b3b3b" stroke="#3b3b3b" stroke-width="0.75" textLength="32" lengthAdjust="spacingAndGlyphs">ID1</text>
<text transform="translate(368.9,1188.4) rotate(-90)" text-anchor="middle" font-size="20.5" fill="#3b3b3b">Fold change</text>
<line x1="418.1" y1="1297.5" x2="427.3" y2="1297.5" stroke="#383838" stroke-width="1.6" />
<text transform="translate(411.5,1305.5) scale(0.9,1)" text-anchor="end" font-size="21.1" fill="#3b3b3b">0</text>
<line x1="418.1" y1="1254.1" x2="427.3" y2="1254.1" stroke="#383838" stroke-width="1.6" />
<text transform="translate(411.5,1262.1) scale(0.9,1)" text-anchor="end" font-size="21.1" fill="#3b3b3b">0.5</text>
<line x1="418.1" y1="1210.7" x2="427.3" y2="1210.7" stroke="#383838" stroke-width="1.6" />
<text transform="translate(411.5,1218.7) scale(0.9,1)" text-anchor="end" font-size="21.1" fill="#3b3b3b">1.0</text>
<line x1="418.1" y1="1167.3" x2="427.3" y2="1167.3" stroke="#383838" stroke-width="1.6" />
<text transform="translate(411.5,1175.3) scale(0.9,1)" text-anchor="end" font-size="21.1" fill="#3b3b3b">1.5</text>
<line x1="418.1" y1="1123.9" x2="427.3" y2="1123.9" stroke="#383838" stroke-width="1.6" />
<text transform="translate(411.5,1131.9) scale(0.9,1)" text-anchor="end" font-size="21.1" fill="#3b3b3b">2.0</text>
<line x1="418.1" y1="1080.5" x2="427.3" y2="1080.5" stroke="#383838" stroke-width="1.6" />
<text transform="translate(411.5,1088.5) scale(0.9,1)" text-anchor="end" font-size="21.1" fill="#3b3b3b">2.5</text>
<line x1="427.3" y1="1079.7" x2="427.3" y2="1298.3" stroke="#383838" stroke-width="1.6" />
<line x1="427.3" y1="1297.5" x2="645.2" y2="1297.5" stroke="#383838" stroke-width="1.6" />
<line x1="461.1" y1="1297.5" x2="461.1" y2="1307" stroke="#383838" stroke-width="1.6" />
<line x1="510.2" y1="1297.5" x2="510.2" y2="1307" stroke="#383838" stroke-width="1.6" />
<line x1="559.8" y1="1297.5" x2="559.8" y2="1307" stroke="#383838" stroke-width="1.6" />
<line x1="609.9" y1="1297.5" x2="609.9" y2="1307" stroke="#383838" stroke-width="1.6" />
<rect x="445.75" y="1257.2" width="30.7" height="40.3" fill="#d4d4d4" stroke="#3a3a3a" stroke-width="2.4"/>
<rect x="494.85" y="1197.1" width="30.7" height="100.4" fill="#a6a6a6" stroke="#3a3a3a" stroke-width="2.4"/>
<rect x="544.45" y="1201" width="30.7" height="96.5" fill="#8a8a8a" stroke="#3a3a3a" stroke-width="2.4"/>
<rect x="594.55" y="1254.4" width="30.7" height="43.1" fill="#717171" stroke="#3a3a3a" stroke-width="2.4"/>
<path d="M461.1 1233.1V1276M453.1 1233.1H469.1M453.1 1276H469.1" stroke="rgba(55,55,55,0.62)" stroke-width="1.9" fill="none"/>
<path d="M510.2 1152.5V1238.5M502.2 1152.5H518.2M502.2 1238.5H518.2" stroke="rgba(55,55,55,0.62)" stroke-width="1.9" fill="none"/>
<path d="M559.8 1135.4V1262.2M551.8 1135.4H567.8M551.8 1262.2H567.8" stroke="rgba(55,55,55,0.62)" stroke-width="1.9" fill="none"/>
<path d="M609.9 1231.7V1272.7M601.9 1231.7H617.9M601.9 1272.7H617.9" stroke="rgba(55,55,55,0.62)" stroke-width="1.9" fill="none"/>
<circle cx="461.1" cy="1226" r="4.7" fill="#333333"/>
<circle cx="461.1" cy="1254.4" r="4.7" fill="#333333"/>
<circle cx="461.1" cy="1264.4" r="4.7" fill="#333333"/>
<circle cx="461.1" cy="1277.6" r="4.7" fill="#333333"/>
<circle cx="510.2" cy="1134.4" r="4.7" fill="#333333"/>
<circle cx="497.4" cy="1200.2" r="4.7" fill="#333333"/>
<circle cx="522.2" cy="1206.9" r="4.7" fill="#333333"/>
<circle cx="510.2" cy="1237.4" r="4.7" fill="#333333"/>
<circle cx="559.8" cy="1104.4" r="4.7" fill="#333333"/>
<circle cx="547.4" cy="1223.6" r="4.7" fill="#333333"/>
<circle cx="572.2" cy="1228.8" r="4.7" fill="#333333"/>
<circle cx="559.8" cy="1237.9" r="4.7" fill="#333333"/>
<circle cx="609.9" cy="1221.2" r="4.7" fill="#333333"/>
<circle cx="597.5" cy="1266.5" r="4.7" fill="#333333"/>
<circle cx="609.9" cy="1260.3" r="4.7" fill="#333333"/>
<circle cx="622.3" cy="1260.3" r="4.7" fill="#333333"/>
<path d="M463 1124.9V1115.3H510.7V1124.9" stroke="#383838" stroke-width="1.6" stroke-linecap="square" fill="none"/>
<path d="M487.8 1098.2L487.8 1110.6M482.43 1101.3L493.17 1107.5M493.17 1101.3L482.43 1107.5" stroke="#333" stroke-width="2.0" fill="none"/>
<path d="M510.7 1095.8V1086.3H616.6V1095.8" stroke="#383838" stroke-width="1.6" stroke-linecap="square" fill="none"/>
<path d="M564.3 1066.8L564.3 1079.2M558.93 1069.9L569.67 1076.1M569.67 1069.9L558.93 1076.1" stroke="#333" stroke-width="2.0" fill="none"/>
<text x="214.15" y="1359.5" text-anchor="middle" font-size="23.2" fill="#3b3b3b" stroke="#3b3b3b" stroke-width="0.75" textLength="79" lengthAdjust="spacingAndGlyphs">MMP13</text>
<text transform="translate(43.3,1478.2) rotate(-90)" text-anchor="middle" font-size="20.5" fill="#3b3b3b">Fold change</text>
<line x1="88.3" y1="1587" x2="97.5" y2="1587" stroke="#383838" stroke-width="1.6" />
<text transform="translate(80.6,1595) scale(0.9,1)" text-anchor="end" font-size="21.1" fill="#3b3b3b">0</text>
<line x1="88.3" y1="1512.24" x2="97.5" y2="1512.24" stroke="#383838" stroke-width="1.6" />
<text transform="translate(80.6,1520.24) scale(0.9,1)" text-anchor="end" font-size="21.1" fill="#3b3b3b">20</text>
<line x1="88.3" y1="1437.48" x2="97.5" y2="1437.48" stroke="#383838" stroke-width="1.6" />
<text transform="translate(80.6,1445.48) scale(0.9,1)" text-anchor="end" font-size="21.1" fill="#3b3b3b">40</text>
<line x1="88.3" y1="1362.72" x2="97.5" y2="1362.72" stroke="#383838" stroke-width="1.6" />
<text transform="translate(80.6,1370.72) scale(0.9,1)" text-anchor="end" font-size="21.1" fill="#3b3b3b">60</text>
<line x1="92" y1="1579.52" x2="97.5" y2="1579.52" stroke="#383838" stroke-width="1.6" />
<line x1="92" y1="1572.05" x2="97.5" y2="1572.05" stroke="#383838" stroke-width="1.6" />
<line x1="92" y1="1564.57" x2="97.5" y2="1564.57" stroke="#383838" stroke-width="1.6" />
<line x1="92" y1="1557.1" x2="97.5" y2="1557.1" stroke="#383838" stroke-width="1.6" />
<line x1="92" y1="1549.62" x2="97.5" y2="1549.62" stroke="#383838" stroke-width="1.6" />
<line x1="92" y1="1542.14" x2="97.5" y2="1542.14" stroke="#383838" stroke-width="1.6" />
<line x1="92" y1="1534.67" x2="97.5" y2="1534.67" stroke="#383838" stroke-width="1.6" />
<line x1="92" y1="1527.19" x2="97.5" y2="1527.19" stroke="#383838" stroke-width="1.6" />
<line x1="92" y1="1519.72" x2="97.5" y2="1519.72" stroke="#383838" stroke-width="1.6" />
<line x1="92" y1="1504.76" x2="97.5" y2="1504.76" stroke="#383838" stroke-width="1.6" />
<line x1="92" y1="1497.29" x2="97.5" y2="1497.29" stroke="#383838" stroke-width="1.6" />
<line x1="92" y1="1489.81" x2="97.5" y2="1489.81" stroke="#383838" stroke-width="1.6" />
<line x1="92" y1="1482.34" x2="97.5" y2="1482.34" stroke="#383838" stroke-width="1.6" />
<line x1="92" y1="1474.86" x2="97.5" y2="1474.86" stroke="#383838" stroke-width="1.6" />
<line x1="92" y1="1467.38" x2="97.5" y2="1467.38" stroke="#383838" stroke-width="1.6" />
<line x1="92" y1="1459.91" x2="97.5" y2="1459.91" stroke="#383838" stroke-width="1.6" />
<line x1="92" y1="1452.43" x2="97.5" y2="1452.43" stroke="#383838" stroke-width="1.6" />
<line x1="92" y1="1444.96" x2="97.5" y2="1444.96" stroke="#383838" stroke-width="1.6" />
<line x1="92" y1="1430" x2="97.5" y2="1430" stroke="#383838" stroke-width="1.6" />
<line x1="92" y1="1422.53" x2="97.5" y2="1422.53" stroke="#383838" stroke-width="1.6" />
<line x1="92" y1="1415.05" x2="97.5" y2="1415.05" stroke="#383838" stroke-width="1.6" />
<line x1="92" y1="1407.58" x2="97.5" y2="1407.58" stroke="#383838" stroke-width="1.6" />
<line x1="92" y1="1400.1" x2="97.5" y2="1400.1" stroke="#383838" stroke-width="1.6" />
<line x1="92" y1="1392.62" x2="97.5" y2="1392.62" stroke="#383838" stroke-width="1.6" />
<line x1="92" y1="1385.15" x2="97.5" y2="1385.15" stroke="#383838" stroke-width="1.6" />
<line x1="92" y1="1377.67" x2="97.5" y2="1377.67" stroke="#383838" stroke-width="1.6" />
<line x1="92" y1="1370.2" x2="97.5" y2="1370.2" stroke="#383838" stroke-width="1.6" />
<line x1="97.5" y1="1361.92" x2="97.5" y2="1587.8" stroke="#383838" stroke-width="1.6" />
<line x1="97.5" y1="1587" x2="327.6" y2="1587" stroke="#383838" stroke-width="1.6" />
<line x1="132.5" y1="1587" x2="132.5" y2="1596.5" stroke="#383838" stroke-width="1.6" />
<line x1="184" y1="1587" x2="184" y2="1596.5" stroke="#383838" stroke-width="1.6" />
<line x1="236" y1="1587" x2="236" y2="1596.5" stroke="#383838" stroke-width="1.6" />
<line x1="287.8" y1="1587" x2="287.8" y2="1596.5" stroke="#383838" stroke-width="1.6" />
<rect x="116.8" y="1583.7" width="31.4" height="3.3" fill="#d4d4d4" stroke="#3a3a3a" stroke-width="2.4"/>
<rect x="168.3" y="1580.2" width="31.4" height="6.8" fill="#a6a6a6" stroke="#3a3a3a" stroke-width="2.4"/>
<rect x="220.3" y="1576.8" width="31.4" height="10.2" fill="#8a8a8a" stroke="#3a3a3a" stroke-width="2.4"/>
<rect x="272.1" y="1483.5" width="31.4" height="103.5" fill="#717171" stroke="#3a3a3a" stroke-width="2.4"/>
<path d="M132.5 1580.5V1585M124.5 1580.5H140.5M124.5 1585H140.5" stroke="rgba(55,55,55,0.62)" stroke-width="1.9" fill="none"/>
<path d="M184 1573.9V1584M176 1573.9H192M176 1584H192" stroke="rgba(55,55,55,0.62)" stroke-width="1.9" fill="none"/>
<path d="M236 1563.5V1587M228 1563.5H244M228 1587H244" stroke="rgba(55,55,55,0.62)" stroke-width="1.9" fill="none"/>
<path d="M287.8 1405.3V1558.5M279.8 1405.3H295.8M279.8 1558.5H295.8" stroke="rgba(55,55,55,0.62)" stroke-width="1.9" fill="none"/>
<circle cx="118.8" cy="1585.7" r="4.7" fill="#333333"/>
<circle cx="127.5" cy="1580.5" r="4.7" fill="#333333"/>
<circle cx="136.2" cy="1584.3" r="4.7" fill="#333333"/>
<circle cx="144.5" cy="1581.9" r="4.7" fill="#333333"/>
<circle cx="170.9" cy="1573.9" r="4.7" fill="#333333"/>
<circle cx="184.1" cy="1575.6" r="4.7" fill="#333333"/>
<circle cx="196.9" cy="1575.6" r="4.7" fill="#333333"/>
<circle cx="170.9" cy="1583.2" r="4.7" fill="#333333"/>
<circle cx="236.1" cy="1559.7" r="4.7" fill="#333333"/>
<circle cx="222.9" cy="1572.8" r="4.7" fill="#333333"/>
<circle cx="222.9" cy="1585" r="4.7" fill="#333333"/>
<circle cx="248.9" cy="1582.2" r="4.7" fill="#333333"/>
<circle cx="287.5" cy="1373.5" r="4.7" fill="#333333"/>
<circle cx="287.5" cy="1485.4" r="4.7" fill="#333333"/>
<circle cx="287.5" cy="1524.2" r="4.7" fill="#333333"/>
<circle cx="287.5" cy="1545" r="4.7" fill="#333333"/>
<text x="547.75" y="1355" text-anchor="middle" font-size="23.2" fill="#3b3b3b" stroke="#3b3b3b" stroke-width="0.75" textLength="91" lengthAdjust="spacingAndGlyphs">COL10A1</text>
<text transform="translate(375.8,1474.3) rotate(-90)" text-anchor="middle" font-size="20.5" fill="#3b3b3b">Fold change</text>
<line x1="417.6" y1="1587.4" x2="426.8" y2="1587.4" stroke="#383838" stroke-width="1.6" />
<text transform="translate(411,1595.4) scale(0.9,1)" text-anchor="end" font-size="21.1" fill="#3b3b3b">−5</text>
<line x1="417.6" y1="1530.2" x2="426.8" y2="1530.2" stroke="#383838" stroke-width="1.6" />
<text transform="translate(411,1538.2) scale(0.9,1)" text-anchor="end" font-size="21.1" fill="#3b3b3b">0</text>
<line x1="417.6" y1="1473" x2="426.8" y2="1473" stroke="#383838" stroke-width="1.6" />
<text transform="translate(411,1481) scale(0.9,1)" text-anchor="end" font-size="21.1" fill="#3b3b3b">5</text>
<line x1="417.6" y1="1415.8" x2="426.8" y2="1415.8" stroke="#383838" stroke-width="1.6" />
<text transform="translate(411,1423.8) scale(0.9,1)" text-anchor="end" font-size="21.1" fill="#3b3b3b">10</text>
<line x1="417.6" y1="1358.6" x2="426.8" y2="1358.6" stroke="#383838" stroke-width="1.6" />
<text transform="translate(411,1366.6) scale(0.9,1)" text-anchor="end" font-size="21.1" fill="#3b3b3b">15</text>
<line x1="421.3" y1="1575.96" x2="426.8" y2="1575.96" stroke="#383838" stroke-width="1.6" />
<line x1="421.3" y1="1564.52" x2="426.8" y2="1564.52" stroke="#383838" stroke-width="1.6" />
<line x1="421.3" y1="1553.08" x2="426.8" y2="1553.08" stroke="#383838" stroke-width="1.6" />
<line x1="421.3" y1="1541.64" x2="426.8" y2="1541.64" stroke="#383838" stroke-width="1.6" />
<line x1="421.3" y1="1518.76" x2="426.8" y2="1518.76" stroke="#383838" stroke-width="1.6" />
<line x1="421.3" y1="1507.32" x2="426.8" y2="1507.32" stroke="#383838" stroke-width="1.6" />
<line x1="421.3" y1="1495.88" x2="426.8" y2="1495.88" stroke="#383838" stroke-width="1.6" />
<line x1="421.3" y1="1484.44" x2="426.8" y2="1484.44" stroke="#383838" stroke-width="1.6" />
<line x1="421.3" y1="1461.56" x2="426.8" y2="1461.56" stroke="#383838" stroke-width="1.6" />
<line x1="421.3" y1="1450.12" x2="426.8" y2="1450.12" stroke="#383838" stroke-width="1.6" />
<line x1="421.3" y1="1438.68" x2="426.8" y2="1438.68" stroke="#383838" stroke-width="1.6" />
<line x1="421.3" y1="1427.24" x2="426.8" y2="1427.24" stroke="#383838" stroke-width="1.6" />
<line x1="421.3" y1="1404.36" x2="426.8" y2="1404.36" stroke="#383838" stroke-width="1.6" />
<line x1="421.3" y1="1392.92" x2="426.8" y2="1392.92" stroke="#383838" stroke-width="1.6" />
<line x1="421.3" y1="1381.48" x2="426.8" y2="1381.48" stroke="#383838" stroke-width="1.6" />
<line x1="421.3" y1="1370.04" x2="426.8" y2="1370.04" stroke="#383838" stroke-width="1.6" />
<line x1="426.8" y1="1357.8" x2="426.8" y2="1588.2" stroke="#383838" stroke-width="1.6" />
<line x1="426.8" y1="1587.4" x2="666" y2="1587.4" stroke="#383838" stroke-width="1.6" />
<line x1="426.8" y1="1531.3" x2="632" y2="1531.3" stroke="#6a6a6a" stroke-width="1.7" />
<line x1="458" y1="1587.4" x2="458" y2="1596.9" stroke="#383838" stroke-width="1.6" />
<line x1="505.8" y1="1587.4" x2="505.8" y2="1596.9" stroke="#383838" stroke-width="1.6" />
<line x1="553.3" y1="1587.4" x2="553.3" y2="1596.9" stroke="#383838" stroke-width="1.6" />
<line x1="601.7" y1="1587.4" x2="601.7" y2="1596.9" stroke="#383838" stroke-width="1.6" />
<rect x="443.3" y="1509.5" width="29.4" height="21.8" fill="#d4d4d4" stroke="#3a3a3a" stroke-width="2.4"/>
<rect x="491.1" y="1495.2" width="29.4" height="36.1" fill="#a6a6a6" stroke="#3a3a3a" stroke-width="2.4"/>
<rect x="538.6" y="1490" width="29.4" height="41.3" fill="#8a8a8a" stroke="#3a3a3a" stroke-width="2.4"/>
<rect x="587" y="1509.5" width="29.4" height="21.8" fill="#717171" stroke="#3a3a3a" stroke-width="2.4"/>
<path d="M458 1477.3V1539.8M450 1477.3H466M450 1539.8H466" stroke="rgba(55,55,55,0.62)" stroke-width="1.9" fill="none"/>
<path d="M505.8 1475.9V1510.9M497.8 1475.9H513.8M497.8 1510.9H513.8" stroke="rgba(55,55,55,0.62)" stroke-width="1.9" fill="none"/>
<path d="M553.3 1422.7V1553.5M545.3 1422.7H561.3M545.3 1553.5H561.3" stroke="rgba(55,55,55,0.62)" stroke-width="1.9" fill="none"/>
<path d="M601.7 1483.4V1532.8M593.7 1483.4H609.7M593.7 1532.8H609.7" stroke="rgba(55,55,55,0.62)" stroke-width="1.9" fill="none"/>
<circle cx="458.3" cy="1462.6" r="4.7" fill="#333333"/>
<circle cx="447.3" cy="1516.4" r="4.7" fill="#333333"/>
<circle cx="469.7" cy="1523.6" r="4.7" fill="#333333"/>
<circle cx="447.3" cy="1530.7" r="4.7" fill="#333333"/>
<circle cx="506" cy="1472.6" r="4.7" fill="#333333"/>
<circle cx="495" cy="1506.4" r="4.7" fill="#333333"/>
<circle cx="517.9" cy="1499.8" r="4.7" fill="#333333"/>
<circle cx="553.3" cy="1390.7" r="4.7" fill="#333333"/>
<circle cx="541.7" cy="1516.4" r="4.7" fill="#333333"/>
<circle cx="564.1" cy="1519.3" r="4.7" fill="#333333"/>
<circle cx="541.7" cy="1526.9" r="4.7" fill="#333333"/>
<circle cx="600.4" cy="1472.6" r="4.7" fill="#333333"/>
<circle cx="600.4" cy="1507.9" r="4.7" fill="#333333"/>
<circle cx="588.9" cy="1526.9" r="4.7" fill="#333333"/>
<circle cx="611.8" cy="1522.6" r="4.7" fill="#333333"/>
<path d="M505.8 1389V1381H602.9V1389" stroke="#383838" stroke-width="1.6" stroke-linecap="square" fill="none"/>
<path d="M550.9 1361.45L550.9 1373.85M545.53 1364.55L556.27 1370.75M556.27 1364.55L545.53 1370.75" stroke="#333" stroke-width="2.0" fill="none"/>
<text transform="translate(139.7,1605.2) rotate(-45)" text-anchor="end" font-size="13.8" fill="#3b3b3b"><tspan x="0" y="0">Unloaded</tspan></text>
<text transform="translate(190,1606) rotate(-45)" text-anchor="end" font-size="13.8" fill="#3b3b3b"><tspan x="0" y="0">Physiologically</tspan><tspan x="0" y="15.5">compressed</tspan></text>
<text transform="translate(242,1606) rotate(-45)" text-anchor="end" font-size="13.8" fill="#3b3b3b"><tspan x="0" y="0">Supra-physiologically</tspan><tspan x="0" y="15.5">compressed</tspan></text>
<text transform="translate(295,1605.2) rotate(-45)" text-anchor="end" font-size="13.8" fill="#3b3b3b"><tspan x="0" y="0">IL-1β</tspan></text>
<text transform="translate(467,1604.5) rotate(-45)" text-anchor="end" font-size="13.8" fill="#3b3b3b"><tspan x="0" y="0">Unloaded</tspan></text>
<text transform="translate(511.8,1606) rotate(-45)" text-anchor="end" font-size="13.8" fill="#3b3b3b"><tspan x="0" y="0">Physiologically</tspan><tspan x="0" y="15.5">compressed</tspan></text>
<text transform="translate(559.3,1606) rotate(-45)" text-anchor="end" font-size="13.8" fill="#3b3b3b"><tspan x="0" y="0">Supra-physiologically</tspan><tspan x="0" y="15.5">compressed</tspan></text>
<text transform="translate(610.7,1604.5) rotate(-45)" text-anchor="end" font-size="13.8" fill="#3b3b3b"><tspan x="0" y="0">IL-1β</tspan></text>
</svg>
</body></html>
